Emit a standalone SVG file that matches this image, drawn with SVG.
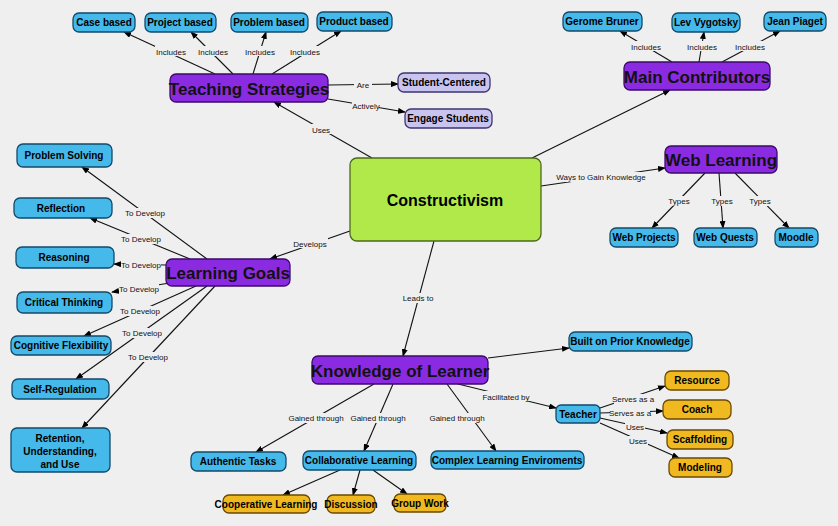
<svg xmlns="http://www.w3.org/2000/svg" width="838" height="526" viewBox="0 0 838 526">
<defs>
<marker id="ah" markerWidth="8" markerHeight="6" refX="7" refY="3" orient="auto" markerUnits="userSpaceOnUse"><path d="M0,0 L8,3 L0,6 z" fill="#000"/></marker>
<style>
text{font-family:"Liberation Sans",Arial,sans-serif}
.b rect{fill:#45b9ea;stroke:#124a6b;stroke-width:1.3}
.p rect{fill:#8a2be2;stroke:#3b0a6b;stroke-width:1.3}
.l rect{fill:#c9c3f0;stroke:#3d3570;stroke-width:1.3}
.y rect{fill:#f0b91f;stroke:#6b4a00;stroke-width:1.3}
.g rect{fill:#b2e94a;stroke:#4f6a17;stroke-width:1.3}
.b text,.l text,.y text{font-size:10px;font-weight:bold;text-anchor:middle;fill:#000}
.p text{font-size:17px;font-weight:bold;text-anchor:middle;fill:#111}
.e line,.e path{stroke:#111;stroke-width:1.1;fill:none}
.a{marker-end:url(#ah)}
.lb{font-size:8px;fill:#111;text-anchor:middle}
</style>
</defs>
<rect width="838" height="526" fill="#efefef"/>
<g id="connectors" class="e">
<line x1="215" y1="74" x2="124" y2="32" class="a"/>
<line x1="233" y1="74" x2="191" y2="32" class="a"/>
<line x1="253" y1="74" x2="266" y2="32" class="a"/>
<line x1="272" y1="74" x2="341" y2="31" class="a"/>
<line x1="328" y1="85" x2="398" y2="84" class="a"/>
<line x1="328" y1="99" x2="405" y2="112" class="a"/>
<line x1="372" y1="158" x2="274" y2="102" class="a"/>
<line x1="350" y1="231" x2="270" y2="259" class="a"/>
<line x1="532" y1="158" x2="670" y2="90" class="a"/>
<line x1="541" y1="186" x2="665" y2="168" class="a"/>
<line x1="434" y1="241" x2="403" y2="356" class="a"/>
<line x1="672" y1="62" x2="620" y2="31" class="a"/>
<line x1="699" y1="62" x2="704" y2="32" class="a"/>
<line x1="722" y1="62" x2="780" y2="31" class="a"/>
<line x1="705" y1="173" x2="652" y2="228" class="a"/>
<line x1="719" y1="173" x2="723" y2="228" class="a"/>
<line x1="735" y1="173" x2="789" y2="228" class="a"/>
<line x1="207" y1="259" x2="82" y2="167" class="a"/>
<line x1="190" y1="259" x2="90" y2="218" class="a"/>
<line x1="166" y1="265" x2="114" y2="264" class="a"/>
<line x1="170" y1="283" x2="112" y2="292" class="a"/>
<line x1="196" y1="286" x2="84" y2="336" class="a"/>
<line x1="207" y1="286" x2="76" y2="379" class="a"/>
<line x1="215" y1="286" x2="82" y2="428" class="a"/>
<line x1="488" y1="358" x2="569" y2="348" class="a"/>
<line x1="458" y1="384" x2="556" y2="408" class="a"/>
<line x1="374" y1="384" x2="256" y2="452" class="a"/>
<line x1="393" y1="384" x2="364" y2="451" class="a"/>
<line x1="447" y1="384" x2="496" y2="451" class="a"/>
<line x1="600" y1="408" x2="665" y2="386" class="a"/>
<line x1="600" y1="413" x2="663" y2="411" class="a"/>
<line x1="600" y1="418" x2="667" y2="433" class="a"/>
<line x1="600" y1="423" x2="679" y2="458" class="a"/>
<line x1="340" y1="470" x2="283" y2="495" class="a"/>
<line x1="360" y1="470" x2="353" y2="495" class="a"/>
<line x1="373" y1="470" x2="407" y2="494" class="a"/>
</g>
<g id="labels">
<rect x="155" y="46" width="30" height="10" fill="#efefef"/><text class="lb" x="171" y="55">Includes</text>
<rect x="198" y="46" width="30" height="10" fill="#efefef"/><text class="lb" x="213" y="55">Includes</text>
<rect x="245" y="46" width="30" height="10" fill="#efefef"/><text class="lb" x="260" y="55">Includes</text>
<rect x="290" y="46" width="30" height="10" fill="#efefef"/><text class="lb" x="305" y="55">Includes</text>
<rect x="354" y="80" width="18" height="9" fill="#efefef"/><text class="lb" x="363" y="88">Are</text>
<rect x="352" y="101" width="27" height="9" fill="#efefef"/><text class="lb" x="366" y="109">Actively</text>
<rect x="310" y="124" width="22" height="10" fill="#efefef"/><text class="lb" x="321" y="133">Uses</text>
<rect x="292" y="238" width="36" height="10" fill="#efefef"/><text class="lb" x="310" y="247">Develops</text>
<rect x="558" y="172" width="86" height="10" fill="#efefef"/><text class="lb" x="601" y="180">Ways to Gain Knowledge</text>
<rect x="400" y="293" width="34" height="10" fill="#efefef"/><text class="lb" x="418" y="301">Leads to</text>
<rect x="631" y="41" width="30" height="10" fill="#efefef"/><text class="lb" x="646" y="50">Includes</text>
<rect x="687" y="41" width="30" height="10" fill="#efefef"/><text class="lb" x="702" y="50">Includes</text>
<rect x="735" y="41" width="30" height="10" fill="#efefef"/><text class="lb" x="750" y="50">Includes</text>
<rect x="667" y="196" width="24" height="10" fill="#efefef"/><text class="lb" x="679" y="204">Types</text>
<rect x="710" y="196" width="24" height="10" fill="#efefef"/><text class="lb" x="722" y="204">Types</text>
<rect x="748" y="196" width="24" height="10" fill="#efefef"/><text class="lb" x="760" y="204">Types</text>
<rect x="125" y="208" width="40" height="10" fill="#efefef"/><text class="lb" x="145" y="216">To Develop</text>
<rect x="121" y="234" width="40" height="10" fill="#efefef"/><text class="lb" x="141" y="242">To Develop</text>
<rect x="121" y="260" width="40" height="10" fill="#efefef"/><text class="lb" x="141" y="268">To Develop</text>
<rect x="119" y="284" width="40" height="10" fill="#efefef"/><text class="lb" x="139" y="292">To Develop</text>
<rect x="120" y="306" width="40" height="10" fill="#efefef"/><text class="lb" x="140" y="314">To Develop</text>
<rect x="122" y="328" width="40" height="10" fill="#efefef"/><text class="lb" x="142" y="336">To Develop</text>
<rect x="128" y="352" width="40" height="10" fill="#efefef"/><text class="lb" x="148" y="360">To Develop</text>
<rect x="484" y="391" width="46" height="10" fill="#efefef"/><text class="lb" x="506" y="400">Facilitated by</text>
<rect x="290" y="413" width="52" height="10" fill="#efefef"/><text class="lb" x="316" y="421">Gained through</text>
<rect x="352" y="413" width="52" height="10" fill="#efefef"/><text class="lb" x="378" y="421">Gained through</text>
<rect x="431" y="413" width="52" height="10" fill="#efefef"/><text class="lb" x="457" y="421">Gained through</text>
<rect x="614" y="394" width="40" height="10" fill="#efefef"/><text class="lb" x="633" y="402">Serves as a</text>
<rect x="610" y="408" width="40" height="10" fill="#efefef"/><text class="lb" x="630" y="416">Serves as a</text>
<rect x="625" y="422" width="20" height="10" fill="#efefef"/><text class="lb" x="635" y="430">Uses</text>
<rect x="628" y="436" width="20" height="10" fill="#efefef"/><text class="lb" x="638" y="444">Uses</text>
</g>
<g id="n-case" class="b"><rect x="73" y="13" width="62" height="19" rx="6"/><text x="104" y="26">Case based</text></g>
<g id="n-project" class="b"><rect x="145" y="13" width="71" height="19" rx="6"/><text x="180" y="26">Project based</text></g>
<g id="n-problem" class="b"><rect x="231" y="13" width="77" height="19" rx="6"/><text x="269" y="26">Problem based</text></g>
<g id="n-product" class="b"><rect x="317" y="12" width="75" height="19" rx="6"/><text x="354" y="25">Product based</text></g>
<g id="n-teaching" class="p"><rect x="170" y="74" width="158" height="28" rx="6"/><text x="249" y="95">Teaching Strategies</text></g>
<g id="n-student" class="l"><rect x="398" y="73" width="92" height="19" rx="6"/><text x="444" y="86">Student-Centered</text></g>
<g id="n-engage" class="l"><rect x="405" y="109" width="87" height="19" rx="6"/><text x="448" y="122">Engage Students</text></g>
<g id="n-constructivism" class="g"><rect x="350" y="158" width="191" height="83" rx="7"/><text x="445" y="206" font-size="16" font-weight="bold" text-anchor="middle">Constructivism</text></g>
<g id="n-gerome" class="b"><rect x="563" y="12" width="79" height="19" rx="6"/><text x="602" y="25">Gerome Bruner</text></g>
<g id="n-lev" class="b"><rect x="672" y="13" width="68" height="19" rx="6"/><text x="706" y="26">Lev Vygotsky</text></g>
<g id="n-jean" class="b"><rect x="764" y="12" width="62" height="19" rx="6"/><text x="795" y="25">Jean Piaget</text></g>
<g id="n-main" class="p"><rect x="624" y="62" width="146" height="28" rx="6"/><text x="697" y="83">Main Contributors</text></g>
<g id="n-web" class="p"><rect x="665" y="146" width="112" height="27" rx="6"/><text x="721" y="166">Web Learning</text></g>
<g id="n-webprojects" class="b"><rect x="610" y="228" width="68" height="19" rx="6"/><text x="644" y="241">Web Projects</text></g>
<g id="n-webquests" class="b"><rect x="694" y="228" width="63" height="19" rx="6"/><text x="725" y="241">Web Quests</text></g>
<g id="n-moodle" class="b"><rect x="775" y="228" width="43" height="19" rx="6"/><text x="796" y="241">Moodle</text></g>
<g id="n-problemsolving" class="b"><rect x="17" y="144" width="95" height="23" rx="6"/><text x="64" y="159">Problem Solving</text></g>
<g id="n-reflection" class="b"><rect x="14" y="198" width="98" height="20" rx="6"/><text x="61" y="212">Reflection</text></g>
<g id="n-reasoning" class="b"><rect x="16" y="247" width="98" height="21" rx="6"/><text x="64" y="261">Reasoning</text></g>
<g id="n-learning" class="p"><rect x="166" y="259" width="124" height="27" rx="6"/><text x="228" y="279">Learning Goals</text></g>
<g id="n-critical" class="b"><rect x="17" y="292" width="95" height="21" rx="6"/><text x="64" y="306">Critical Thinking</text></g>
<g id="n-cognitive" class="b"><rect x="11" y="336" width="100" height="19" rx="6"/><text x="61" y="349">Cognitive Flexibility</text></g>
<g id="n-self" class="b"><rect x="12" y="379" width="97" height="20" rx="6"/><text x="60" y="393">Self-Regulation</text></g>
<g id="n-retention" class="b"><rect x="11" y="428" width="99" height="44" rx="6"/><text x="60" y="442">Retention,</text><text x="60" y="455">Understanding,</text><text x="60" y="468">and Use</text></g>
<g id="n-knowledge" class="p"><rect x="312" y="356" width="176" height="28" rx="6"/><text x="400" y="377">Knowledge of Learner</text></g>
<g id="n-prior" class="b"><rect x="569" y="332" width="123" height="19" rx="6"/><text x="630" y="345">Built on Prior Knowledge</text></g>
<g id="n-teacher" class="b"><rect x="556" y="405" width="44" height="18" rx="5"/><text x="578" y="418">Teacher</text></g>
<g id="n-resource" class="y"><rect x="665" y="371" width="64" height="19" rx="6"/><text x="697" y="384">Resource</text></g>
<g id="n-coach" class="y"><rect x="663" y="400" width="68" height="19" rx="6"/><text x="697" y="413">Coach</text></g>
<g id="n-scaffolding" class="y"><rect x="667" y="430" width="66" height="19" rx="6"/><text x="700" y="443">Scaffolding</text></g>
<g id="n-modeling" class="y"><rect x="669" y="458" width="63" height="19" rx="6"/><text x="700" y="471">Modeling</text></g>
<g id="n-authentic" class="b"><rect x="191" y="452" width="95" height="19" rx="6"/><text x="238" y="465">Authentic Tasks</text></g>
<g id="n-collab" class="b"><rect x="303" y="451" width="113" height="19" rx="6"/><text x="359" y="464">Collaborative Learning</text></g>
<g id="n-complex" class="b"><rect x="431" y="451" width="153" height="18" rx="6"/><text x="507" y="464">Complex Learning Enviroments</text></g>
<g id="n-coop" class="y"><rect x="223" y="495" width="87" height="18" rx="6"/><text x="266" y="508">Cooperative Learning</text></g>
<g id="n-discussion" class="y"><rect x="327" y="495" width="48" height="18" rx="6"/><text x="351" y="508">Discussion</text></g>
<g id="n-group" class="y"><rect x="394" y="494" width="52" height="18" rx="6"/><text x="420" y="507">Group Work</text></g>
</svg>
